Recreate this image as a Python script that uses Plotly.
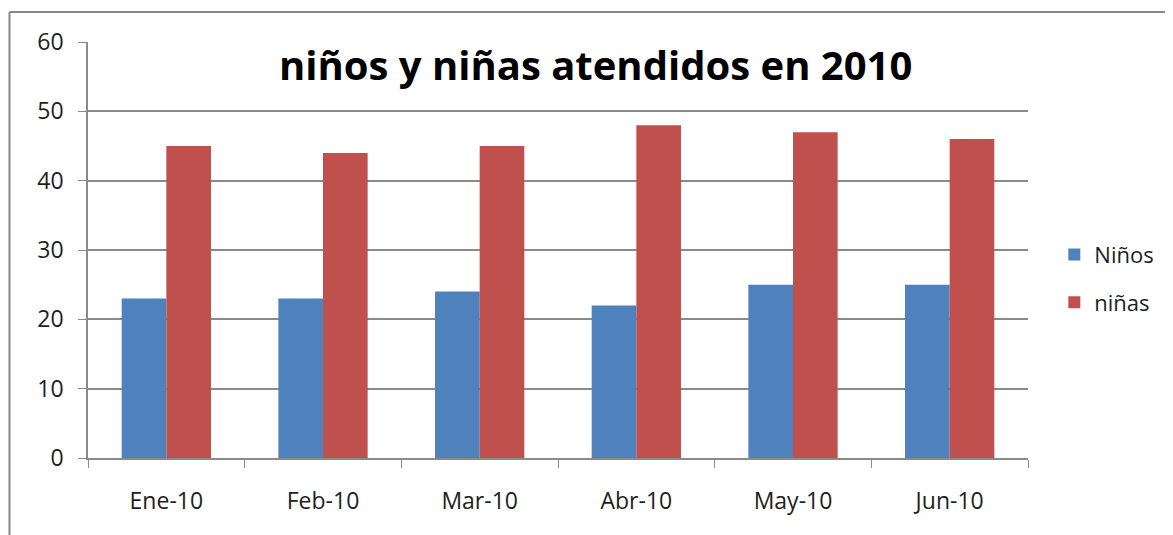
import plotly.graph_objects as go

categories = ["Ene-10", "Feb-10", "Mar-10", "Abr-10", "May-10", "Jun-10"]
ninos = [23, 23, 24, 22, 25, 25]
ninas = [45, 44, 45, 48, 47, 46]
y_ticks = [0, 10, 20, 30, 40, 50, 60]

FONT = "'Open Sans', sans-serif"
GRID = "#8a8a8a"
TXT = "#1e1e1e"

fig = go.Figure()
fig.add_trace(go.Bar(x=categories, y=ninos, name="Niños", legendgroup="a",
                     marker=dict(color="#4f81bd", line=dict(width=0))))
fig.add_trace(go.Bar(x=categories, y=ninas, name="niñas", legendgroup="b",
                     marker=dict(color="#c0504d", line=dict(width=0))))

fig.update_layout(
    width=1173, height=535,
    margin=dict(l=80, r=153, t=34, b=85),
    paper_bgcolor="white", plot_bgcolor="white",
    barmode="group", bargap=0.43, bargroupgap=0,
    font=dict(family=FONT, size=22, color=TXT),
    showlegend=True,
    legend=dict(x=1.028, y=0.539, xanchor="left", yanchor="top",
                font=dict(size=22, color=TXT, family=FONT), tracegroupgap=16,
                itemsizing="constant"),
    xaxis=dict(showline=True, linecolor=GRID, linewidth=1.5,
               ticks="outside", ticklen=8, tickcolor=GRID, tickson="boundaries",
               showgrid=False, tickfont=dict(size=23, family=FONT, color=TXT),
               ticklabelstandoff=22),
    yaxis=dict(range=[0, 60], tickvals=y_ticks, showline=True, linecolor=GRID, linewidth=1.5,
               ticks="outside", ticklen=8, tickcolor=GRID,
               showgrid=True, gridcolor=GRID, gridwidth=1.5, zeroline=False,
               tickfont=dict(size=23, family=FONT, color=TXT), ticklabelstandoff=10),
    annotations=[dict(text="<b>niños y niñas atendidos en 2010</b>", xref="paper", yref="paper",
                      x=0.54, y=0.945, xanchor="center", yanchor="middle", showarrow=False,
                      font=dict(size=40, family=FONT, color="black"))],
    shapes=[
        dict(type="line", xref="paper", yref="paper", x0=-0.0835, x1=-0.0835, y0=-0.3, y1=1.0721,
             line=dict(color="#878787", width=2)),
        dict(type="line", xref="paper", yref="paper", x0=-0.0835, x1=1.3, y0=1.0721, y1=1.0721,
             line=dict(color="#878787", width=2)),
    ],
)

fig.write_html("out.html")
